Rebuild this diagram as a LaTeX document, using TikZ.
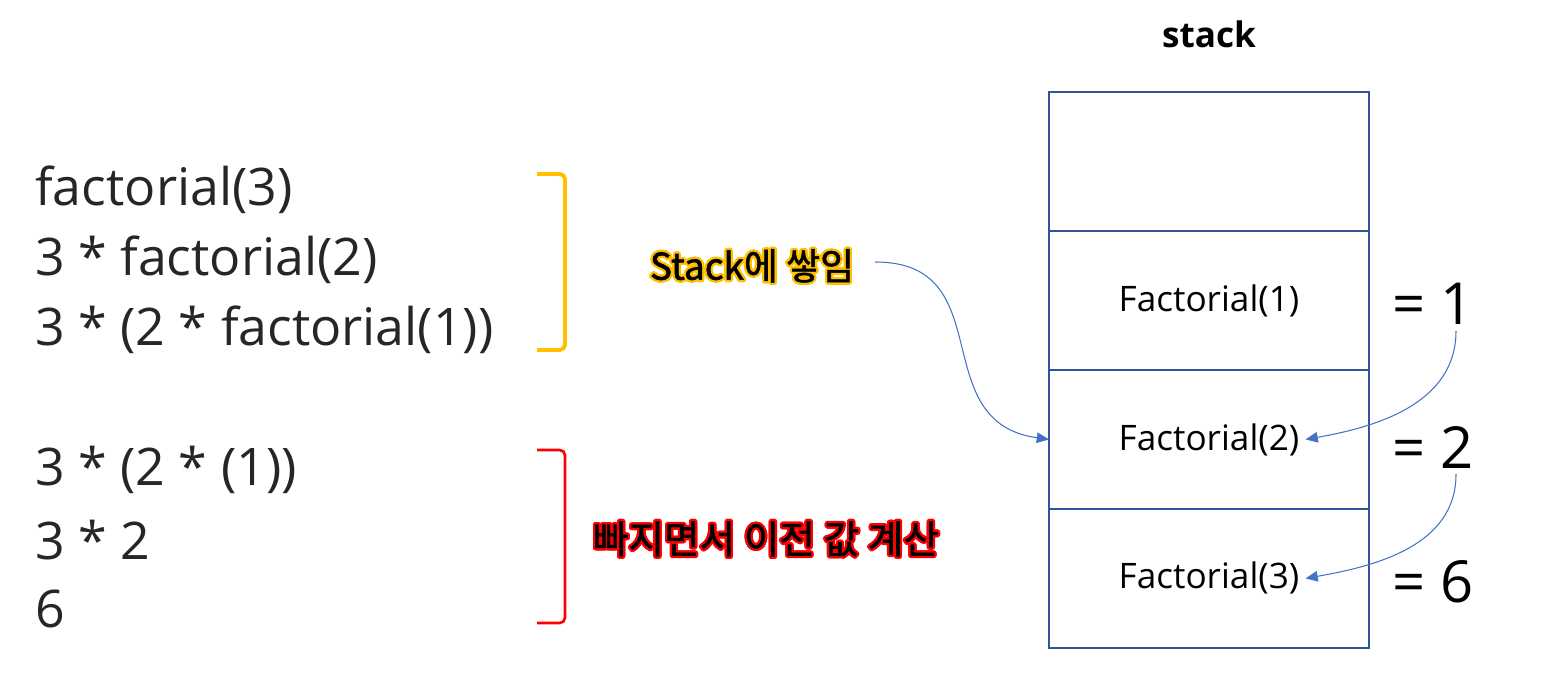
\documentclass[tikz,border=0pt]{standalone}
\usepackage{fontspec}
\setmainfont{Open Sans}
\newfontfamily\kr[FakeBold=1.5]{Noto Sans CJK KR}
\usepackage{contour}
\contourlength{1.3pt}
\usetikzlibrary{positioning,arrows.meta}
\definecolor{stackblue}{HTML}{2F5597}
\definecolor{arrowblue}{HTML}{4472C4}
\definecolor{gold}{HTML}{FFC000}

\begin{document}
\begin{tikzpicture}[x=0.02cm, y=-0.02cm,
	code/.style = {anchor=west, inner sep=0pt, text=black!85, font=\fontsize{29.5}{35}\selectfont},
	cell/.style = {draw=stackblue, line width=1.1pt, outer sep=0pt, minimum width=6.4cm, minimum height=2.78cm},
	call/.style = {font=\fontsize{20}{24}\selectfont},
	val/.style = {font=\fontsize{33}{40}\selectfont},
	flow/.style = {arrowblue, line width=0.6pt, -{Triangle[length=7pt,width=6pt]}}]
	\useasboundingbox (0,0) rectangle (1542,677);

	\node[code] (l1) at (35,190) {factorial(3)};
	\node[code] (l2) at (35,260) {3 * factorial(2)};
	\node[code] (l3) at (35,330) {3 * (2 * factorial(1))};
	\node[code] (l4) at (35,470) {3 * (2 * (1))};
	\node[code] (l5) at (35,540) {3 * 2};
	\node[code] (l6) at (35,609) {6};

	\draw[gold, line width=2.2pt, rounded corners=3pt] (537,174) -- (565,174) -- (565,350) -- (537,350);
	\draw[red, line width=1.5pt, rounded corners=3pt] (537,450) -- (565,450) -- (565,623) -- (537,623);

	\node (push) at (752,267) {\kr\fontsize{21}{25}\selectfont\contour{gold}{Stack에 쌓임}};
	\node (pop) at (766,540) {\kr\fontsize{22}{26}\selectfont\contour{red}{빠지면서 이전 값 계산}};

	\node[cell] (c0) at (1209,161.5) {};
	\node[cell] (c1) [below=0pt of c0] {};
	\node[cell] (c2) [below=0pt of c1] {};
	\node[cell] (c3) [below=0pt of c2] {};
	\node[call] (t1) at (c1) {Factorial(1)};
	\node[call] (t2) at (c2) {Factorial(2)};
	\node[call] (t3) at (c3) {Factorial(3)};
	\node[font=\bfseries\fontsize{20}{24}\selectfont] (title) [above=0.75cm of c0] {stack};

	\node[val] (v1) at (1433,304) {= 1};
	\node[val] (v2) at (1433,447) {= 2};
	\node[val] (v3) at (1433,582) {= 6};

	\draw[flow] ([shift={(0.3cm,0.1cm)}]push.east) to[out=0, in=172, looseness=1.3] (c2.west);
	\draw[flow] ([xshift=0.46cm]v1.south) to[out=-90, in=10] (t2.east);
	\draw[flow] ([xshift=0.46cm]v2.south) to[out=-90, in=10] (t3.east);
\end{tikzpicture}
\end{document}
